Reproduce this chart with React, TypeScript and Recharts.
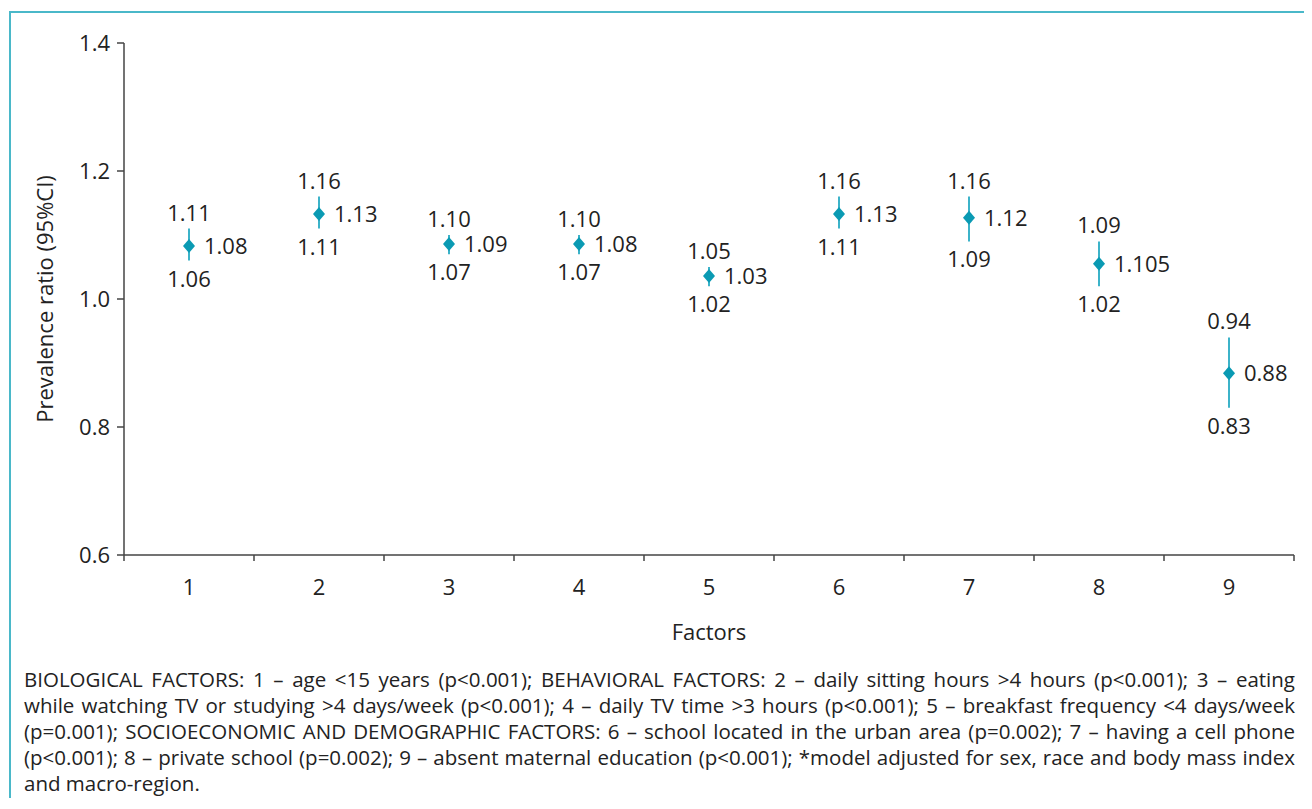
import { ScatterChart, Scatter, XAxis, YAxis, ErrorBar } from 'recharts'

// factor number on the x axis, prevalence ratio and 95% CI on the y axis
const FACTORS = [1, 2, 3, 4, 5, 6, 7, 8, 9]
const ESTIMATES = [1.083, 1.133, 1.086, 1.086, 1.036, 1.133, 1.127, 1.055, 0.884]
const LOWER = [1.06, 1.11, 1.07, 1.07, 1.02, 1.11, 1.09, 1.02, 0.83]
const UPPER = [1.11, 1.16, 1.1, 1.1, 1.05, 1.16, 1.16, 1.09, 0.94]
const ESTIMATE_LABELS = ['1.08', '1.13', '1.09', '1.08', '1.03', '1.13', '1.12', '1.105', '0.88']

const Y_TICKS = [0.6, 0.8, 1.0, 1.2, 1.4]
// half steps are the category borders (tick marks), whole steps carry the labels
const X_TICKS = [0.5, 1, 1.5, 2, 2.5, 3, 3.5, 4, 4.5, 5, 5.5, 6, 6.5, 7, 7.5, 8, 8.5, 9, 9.5]

const CAPTION = [
  'BIOLOGICAL FACTORS: 1 – age <15 years (p<0.001); BEHAVIORAL FACTORS: 2 – daily sitting hours >4 hours (p<0.001); 3 – eating',
  'while watching TV or studying >4 days/week (p<0.001); 4 – daily TV time >3 hours (p<0.001); 5 – breakfast frequency <4 days/week',
  '(p=0.001); SOCIOECONOMIC AND DEMOGRAPHIC FACTORS: 6 – school located in the urban area (p=0.002); 7 – having a cell phone',
  '(p<0.001); 8 – private school (p=0.002); 9 – absent maternal education (p<0.001); *model adjusted for sex, race and body mass index',
  'and macro-region.',
]

const AXIS = '#444'
const TEXT = '#222'
const DOT = '#0a9ab3'
const WHISKER = '#3cb3c9'
const FRAME = '#4ab8c9'
const FS = 22

const points = FACTORS.map((f, i) => ({
  x: f,
  y: ESTIMATES[i],
  err: [ESTIMATES[i] - LOWER[i], UPPER[i] - ESTIMATES[i]],
  label: ESTIMATE_LABELS[i],
}))
const upperPts = FACTORS.map((f, i) => ({ x: f, y: UPPER[i], label: UPPER[i].toFixed(2) }))
const lowerPts = FACTORS.map((f, i) => ({ x: f, y: LOWER[i], label: LOWER[i].toFixed(2) }))

const Diamond = (props: any) => {
  const { cx, cy, payload } = props
  return (
    <g>
      <polygon
        points={`${cx},${cy - 7} ${cx + 6},${cy} ${cx},${cy + 7} ${cx - 6},${cy}`}
        fill={DOT}
      />
      <text x={cx + 15} y={cy + 8} fontSize={FS} fill={TEXT}>
        {payload.label}
      </text>
    </g>
  )
}

const UpperText = (props: any) => (
  <text x={props.cx} y={props.cy - 8} fontSize={FS} fill={TEXT} textAnchor="middle">
    {props.payload.label}
  </text>
)

const LowerText = (props: any) => (
  <text x={props.cx} y={props.cy + 26} fontSize={FS} fill={TEXT} textAnchor="middle">
    {props.payload.label}
  </text>
)

const XTick = (props: any) => {
  const { x, y, payload } = props
  const v = payload.value
  if (Number.isInteger(v)) {
    return (
      <text x={x} y={y + 34} textAnchor="middle" fontSize={FS} fill={TEXT}>
        {v}
      </text>
    )
  }
  return <line x1={x} x2={x} y1={y - 6} y2={y} stroke={AXIS} strokeWidth={1.5} />
}

export default function App() {
  return (
    <div
      style={{
        position: 'relative',
        width: 1296,
        height: 790,
        overflow: 'hidden',
        fontFamily: "'Open Sans', sans-serif",
        color: TEXT,
      }}
    >
      <div
        style={{
          position: 'absolute',
          left: 1,
          top: 3,
          width: 1400,
          height: 900,
          borderTop: `2.5px solid ${FRAME}`,
          borderLeft: `2.5px solid ${FRAME}`,
        }}
      />
      <div style={{ position: 'absolute', left: 0, top: 0 }}>
        <ScatterChart width={1296} height={640} margin={{ top: 35, right: 10, left: 16, bottom: 3 }}>
          <XAxis
            type="number"
            dataKey="x"
            domain={[0.5, 9.5]}
            ticks={X_TICKS}
            interval={0}
            height={90}
            tickSize={6}
            tickMargin={0}
            tickLine={false}
            tick={<XTick />}
            stroke={AXIS}
            strokeWidth={1.5}
            label={{
              value: 'Factors',
              position: 'insideBottom',
              offset: 5,
              style: { fontSize: FS, fill: TEXT },
            }}
          />
          <YAxis
            type="number"
            dataKey="y"
            domain={[0.6, 1.4]}
            ticks={Y_TICKS}
            interval={0}
            width={100}
            tickSize={7}
            tickMargin={7}
            tickFormatter={(v: number) => v.toFixed(1)}
            tick={{ fontSize: FS, fill: TEXT }}
            stroke={AXIS}
            strokeWidth={1.5}
            label={{
              value: 'Prevalence ratio (95%CI)',
              angle: -90,
              position: 'insideLeft',
              offset: 21,
              style: { fontSize: FS, fill: TEXT, textAnchor: 'middle' },
            }}
          />
          <Scatter data={upperPts} shape={<UpperText />} isAnimationActive={false} />
          <Scatter data={lowerPts} shape={<LowerText />} isAnimationActive={false} />
          <Scatter data={points} shape={<Diamond />} isAnimationActive={false}>
            <ErrorBar
              dataKey="err"
              direction="y"
              width={0}
              stroke={WHISKER}
              strokeWidth={2}
              isAnimationActive={false}
            />
          </Scatter>
        </ScatterChart>
      </div>
      <div
        style={{
          position: 'absolute',
          left: 16,
          top: 658,
          width: 1271,
          fontSize: 20.5,
          lineHeight: '26px',
        }}
      >
        {CAPTION.map((line, i) => (
          <div
            key={i}
            style={{
              textAlign: 'justify',
              textAlignLast: i === CAPTION.length - 1 ? 'left' : 'justify',
            }}
          >
            {line}
          </div>
        ))}
      </div>
    </div>
  )
}
